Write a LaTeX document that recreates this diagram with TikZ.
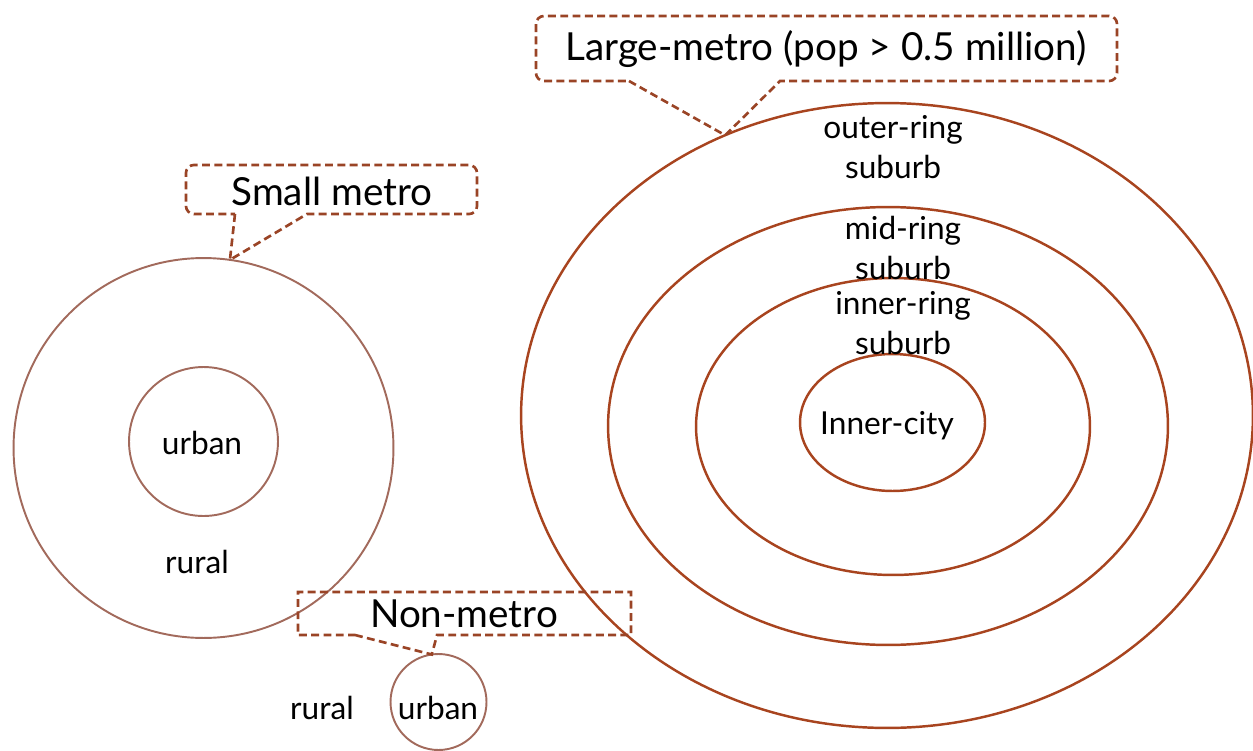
\documentclass[tikz,border=0pt]{standalone}
\usepackage{fontspec}
\setmainfont{Lato}
\usetikzlibrary{shapes.geometric}
\definecolor{ringc}{HTML}{A8441F}
\definecolor{smallc}{HTML}{A26A5C}
\definecolor{callc}{HTML}{9A4426}
\begin{document}
\begin{tikzpicture}[x=0.02cm,y=-0.02cm,
  ring/.style={draw=ringc, line width=1.4pt, ellipse, inner sep=0pt, outer sep=0pt},
  smallring/.style={draw=smallc, line width=1.1pt, circle, inner sep=0pt, outer sep=0pt},
  callout/.style={draw=callc, line width=1.5pt, dash pattern=on 4.5pt off 2.5pt},
  lbl/.style={font=\fontsize{18}{22.8}\selectfont, align=center, inner sep=0pt},
  ttl/.style={font=\fontsize{22}{26}\selectfont, inner sep=0pt}]
\useasboundingbox (0,0) rectangle (1253,750);
% large metro rings
\node[ring, minimum width=14.64cm, minimum height=12.5cm] (outer) at (887,415.5) {};
\node[ring, minimum width=11.2cm, minimum height=8.76cm] (mid) at (888,426) {};
\node[ring, minimum width=7.88cm, minimum height=5.94cm] (inner) at (893,426.5) {};
\node[ring, minimum width=3.7cm, minimum height=2.74cm] (city) at (892.5,422.5) {};
% small metro
\node[smallring, minimum size=7.6cm] (smout) at (203.5,448) {};
\node[smallring, minimum size=2.98cm] (smurb) at (203.5,441.5) {};
% non metro
\node[smallring, minimum size=1.92cm] (nmurb) at (438.5,702) {};
% labels
\node[lbl] (lOuter) at (893,147.5) {outer-ring\\suburb};
\node[lbl] (lMid) at (903,248) {mid-ring\\suburb};
\node[lbl] (lInner) at (903,323.5) {inner-ring\\suburb};
\node[lbl] (lCity) at (887,426) {Inner-city};
\node[lbl] (lSmUrb) at (202,443) {urban};
\node[lbl] (lSmRur) at (197,562) {rural};
\node[lbl] (lNmRur) at (322,708) {rural};
\node[lbl] (lNmUrb) at (438,708) {urban};
% callouts
\node[ttl] (tLarge) at (826,49) {Large-metro (pop > 0.5 million)};
\node[ttl] (tSmall) at (332,191) {Small metro};
\node[ttl] (tNon) at (464,614) {Non-metro};
\draw[callout] (629,81) -- (outer.120.6) -- (780,81)
  {[rounded corners=4.5pt] -- (1117,81) -- (1117,16) -- (536,16) -- (536,81)} -- cycle;
\draw[callout] (235,214) -- (smout.82) -- (307,214)
  {[rounded corners=4.5pt] -- (477,214) -- (477,165) -- (186,165) -- (186,214)} -- cycle;
\draw[callout] (355,635) -- (nmurb.98) -- (437,635) -- (631,635) -- (631,592) -- (298,592) -- (298,635) -- cycle;
\end{tikzpicture}
\end{document}
